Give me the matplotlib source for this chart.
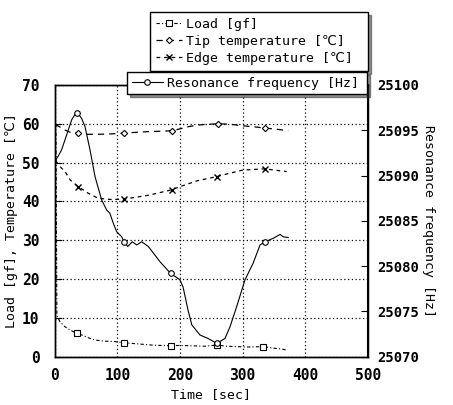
import numpy as np
import matplotlib
matplotlib.use("Agg")
import matplotlib.pyplot as plt

# ---------------- data ----------------
load_t = [2, 3.5, 8.5, 16.5, 24.4, 35, 43, 55, 64.4, 80, 96, 110.7, 133, 155, 170,
          185, 200, 220, 240, 259, 275, 290.7, 310, 333, 350, 362, 370.6]
load_v = [60, 10.5, 9.0, 7.7, 6.9, 6.0, 5.6, 4.8, 4.3, 4.0, 3.9, 3.6, 3.3, 3.0, 2.9,
          2.85, 2.9, 2.8, 2.7, 3.0, 2.7, 2.6, 2.5, 2.6, 2.2, 2.0, 1.7]
load_marks = [35, 110.7, 185, 259, 333]

tip_t = [0, 5, 15, 25, 37.7, 50, 70, 90, 111, 130, 150, 170, 187, 200, 215, 230,
         245, 261, 280, 300, 320, 336, 355, 373]
tip_v = [59.5, 59.5, 58.5, 57.8, 57.6, 57.3, 57.3, 57.4, 57.6, 57.8, 58.0, 58.1,
         58.2, 58.7, 59.3, 59.7, 59.9, 60.0, 59.9, 59.5, 59.2, 58.9, 58.6, 58.2]
tip_marks = [37.7, 111, 187, 261, 336]

edge_t = [2, 5.8, 16.5, 25, 37.7, 53.7, 69.6, 90, 110.7, 150, 187, 200, 227,
          258.8, 280, 301, 336, 355, 370.6]
edge_v = [50.5, 49.4, 47.7, 45.5, 43.8, 42.1, 40.8, 40.5, 40.6, 41.6, 43.0, 43.8,
          45.3, 46.4, 47.3, 48.1, 48.4, 48.0, 47.7]
edge_marks = [37.7, 110.7, 187, 258.8, 336]

res_t = [0, 5, 11, 16.5, 21.7, 27, 32, 36, 43, 48.4, 56.4, 64.4, 75, 83, 88, 93.6,
         99, 107, 110.7, 116.6, 124, 131, 139, 149.5, 160, 168, 185, 200, 205, 213,
         219, 232, 245, 259, 272, 280, 290.7, 304, 317, 328, 336, 349, 360, 365, 373]
res_hz = [25091.56, 25092.07, 25092.84, 25093.96, 25095.03, 25096.14, 25096.70,
          25096.96, 25096.31, 25095.41, 25092.84, 25089.89, 25087.31, 25086.20,
          25085.86, 25084.74, 25083.80, 25083.24, 25082.69, 25082.17, 25082.69,
          25082.34, 25082.69, 25082.17, 25081.23, 25080.50, 25079.21, 25078.49,
          25077.71, 25075.14, 25073.51, 25072.40, 25072.01, 25071.48, 25072.01,
          25073.30, 25075.53, 25078.49, 25080.33, 25082.34, 25082.69, 25083.07,
          25083.50, 25083.24, 25083.16]
res_marks = [36, 110.7, 185, 259, 336]

x_ticks = [0, 100, 200, 300, 400, 500]
y_ticks = [0, 10, 20, 30, 40, 50, 60, 70]
y2_ticks = [25070, 25075, 25080, 25085, 25090, 25095, 25100]

labels = ["Load [gf]", "Tip temperature [\u2103]", "Edge temperature [\u2103]",
          "Resonance frequency [Hz]"]

# ---------------- fonts ----------------
plt.rcParams["font.family"] = ["DejaVu Sans Mono", "DejaVu Sans"]

def idx_of(ts, marks):
    return [int(np.argmin(np.abs(np.array(ts) - m))) for m in marks]

# ---------------- figure ----------------
W, H = 453, 405
fig = plt.figure(figsize=(W / 100, H / 100), dpi=100)
ax = fig.add_axes([54.7 / W, 1 - 356.7 / H, (367.7 - 54.7) / W, (356.7 - 85) / H])
ax2 = ax.twinx()

mk = dict(markersize=4, markerfacecolor="white", markeredgecolor="black",
          markeredgewidth=0.8)
l1, = ax.plot(load_t, load_v, color="black", lw=0.8, linestyle=(0, (3, 2, 1, 2)),
              marker="s", markevery=idx_of(load_t, load_marks), **mk)
l2, = ax.plot(tip_t, tip_v, color="black", lw=0.9, linestyle=(0, (5, 4)),
              marker="D", markevery=idx_of(tip_t, tip_marks), **dict(mk, markersize=3.2))
l3, = ax.plot(edge_t, edge_v, color="black", lw=0.9, linestyle=(0, (3, 3)),
              marker="x", markevery=idx_of(edge_t, edge_marks),
              markersize=5, markeredgecolor="black", markeredgewidth=1.0)
l4, = ax2.plot(res_t, res_hz, color="black", lw=0.8, linestyle="-",
               marker="o", markevery=idx_of(res_t, res_marks), **mk)

ax.set_xlim(0, 500)
ax.set_ylim(0, 70)
ax2.set_ylim(25070, 25100)
ax.set_xticks(x_ticks)
ax.set_yticks(y_ticks)
ax2.set_yticks(y2_ticks)

ax.grid(True, color="black", linestyle=(0, (1, 2)), linewidth=0.9)
ax.tick_params(axis="x", direction="in", length=0, pad=8, labelsize=10.5)
ax.tick_params(axis="y", direction="in", length=5, pad=11, labelsize=10.5)
ax2.tick_params(axis="y", direction="in", length=5, pad=7, labelsize=10)
for a in (ax, ax2):
    for s in a.spines.values():
        s.set_linewidth(1.0)
ax2.spines["right"].set_linewidth(1.5)

for lab in ax.get_xticklabels() + ax.get_yticklabels() + ax2.get_yticklabels():
    lab.set_fontweight("bold")

ax.set_xlabel("Time [sec]", fontsize=9.5, labelpad=4)
ax.set_ylabel("Load [gf], Temperature [\u2103]", fontsize=9.5, labelpad=3)
ax2.set_ylabel("Resonance frequency [Hz]", fontsize=9.5, rotation=270, labelpad=11)

# ---------------- legends ----------------
shadow = {"color": "0.15"}
leg1 = ax2.legend([l1, l2, l3], labels[:3], loc="upper left",
                  bbox_to_anchor=(150 / W, 0, 218 / W, 1 - 12 / H),
                  bbox_transform=fig.transFigure, mode="expand", borderaxespad=0,
                  fontsize=9.5, frameon=True, fancybox=False, edgecolor="black",
                  framealpha=1, handlelength=2.0, handletextpad=0.3,
                  labelspacing=0.3, borderpad=0.45, shadow=shadow)
leg1.get_frame().set_linewidth(1.0)
ax2.add_artist(leg1)
leg2 = ax2.legend([l4], labels[3:], loc="upper left",
                  bbox_to_anchor=(127 / W, 0, 240 / W, 1 - 72 / H),
                  bbox_transform=fig.transFigure, mode="expand", borderaxespad=0,
                  fontsize=9.5, frameon=True, fancybox=False, edgecolor="black",
                  framealpha=1, handlelength=2.4, handletextpad=0.3,
                  borderpad=0.35, shadow=shadow)
leg2.get_frame().set_linewidth(1.0)
leg2.set_zorder(10)

fig.savefig("out.png", dpi=100)
